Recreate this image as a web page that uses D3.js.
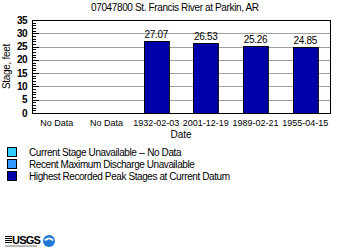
<!DOCTYPE html>
<html>
<head>
<meta charset="utf-8">
<script src="https://cdn.jsdelivr.net/npm/d3@7"></script>
<style>
  body { margin: 0; background: #fff; }
  text { font-family: "Liberation Sans", Arial, sans-serif; fill: #000; }
</style>
</head>
<body>
<svg id="chart" width="350" height="250"></svg>
<script>
// chart data
const title = "07047800 St. Francis River at Parkin, AR";
const categories = ["No Data", "No Data", "1932-02-03", "2001-12-19", "1989-02-21", "1955-04-15"];
const stages = [null, null, 27.07, 26.53, 25.26, 24.85];
const yTicks = [0, 5, 10, 15, 20, 25, 30, 35];
const legendLabels = [
  "Current Stage Unavailable -- No Data",
  "Recent Maximum Discharge Unavailable",
  "Highest Recorded Peak Stages at Current Datum"
];
const legendColors = ["#33ccff", "#3399ff", "#0000aa"];

const svg = d3.select("#chart");
const margin = { left: 32, right: 20, top: 20, bottom: 137 };
const W = 350, H = 250;

const x = d3.scaleBand()
  .domain(d3.range(categories.length))
  .range([margin.left, W - margin.right])
  .paddingInner(0.5)
  .paddingOuter(0.25);

const y = d3.scaleLinear()
  .domain([0, 35])
  .range([H - margin.bottom, margin.top]);

// title (squeezed a bit like the gd-rendered original)
svg.append("text")
  .attr("x", 175).attr("y", 11)
  .attr("text-anchor", "middle")
  .attr("textLength", 168)
  .attr("lengthAdjust", "spacing")
  .style("font-size", "10px")
  .text(title);

// gridlines
svg.append("g")
  .selectAll("line")
  .data(yTicks.filter(d => d > 0 && d < 35))
  .join("line")
  .attr("x1", margin.left).attr("x2", W - margin.right)
  .attr("y1", d => Math.round(y(d)) + 0.5).attr("y2", d => Math.round(y(d)) + 0.5)
  .attr("stroke", "#a0a0a0");

// minor ticks (inside)
svg.append("g")
  .selectAll("line")
  .data(d3.range(0, 36))
  .join("line")
  .attr("x1", margin.left)
  .attr("x2", d => margin.left + (d % 5 === 0 ? 7 : 4))
  .attr("y1", d => Math.round(y(d)) + 0.5).attr("y2", d => Math.round(y(d)) + 0.5)
  .attr("stroke", "#000");

// plot frame
svg.append("rect")
  .attr("x", margin.left + 0.5).attr("y", margin.top + 0.5)
  .attr("width", W - margin.right - margin.left)
  .attr("height", y(0) - margin.top)
  .attr("fill", "none").attr("stroke", "#000");

// y tick labels
svg.append("g")
  .selectAll("text")
  .data(yTicks)
  .join("text")
  .attr("x", margin.left - 5)
  .attr("y", d => y(d) + 3.5)
  .attr("text-anchor", "end")
  .style("font-size", "10px")
  .style("font-weight", "bold")
  .style("letter-spacing", "-0.5px")
  .text(d => d);

// y label
svg.append("text")
  .attr("transform", `translate(10,${(margin.top + y(0)) / 2}) rotate(-90)`)
  .attr("text-anchor", "middle")
  .style("font-size", "10px")
  .style("letter-spacing", "-0.3px")
  .text("Stage, feet");

// bars
const barData = stages.map((v, i) => ({ i, v })).filter(d => d.v !== null);
svg.append("g")
  .selectAll("rect")
  .data(barData)
  .join("rect")
  .attr("x", d => Math.round(x(d.i)) + 0.5)
  .attr("y", d => Math.round(y(d.v)) + 0.5)
  .attr("width", x.bandwidth())
  .attr("height", d => Math.round(y(0)) - Math.round(y(d.v)))
  .attr("fill", "#0000aa")
  .attr("stroke", "#000");

// value labels
svg.append("g")
  .selectAll("text")
  .data(barData)
  .join("text")
  .attr("x", d => x(d.i) + x.bandwidth() / 2)
  .attr("y", d => y(d.v) - 3)
  .attr("text-anchor", "middle")
  .style("font-size", "10px")
  .style("letter-spacing", "-0.3px")
  .text(d => d.v.toFixed(2));

// x labels
svg.append("g")
  .selectAll("text")
  .data(categories)
  .join("text")
  .attr("x", (d, i) => x(i) + x.bandwidth() / 2)
  .attr("y", y(0) + 13)
  .attr("text-anchor", "middle")
  .style("font-size", "9px")
  .text(d => d);

svg.append("text")
  .attr("x", 181).attr("y", y(0) + 25)
  .attr("text-anchor", "middle")
  .style("font-size", "10px")
  .text("Date");

// legend
const legend = svg.append("g")
  .selectAll("g")
  .data(legendLabels)
  .join("g")
  .attr("transform", (d, i) => `translate(7,${147 + i * 12})`);

legend.append("rect")
  .attr("x", 0.5).attr("y", 0.5)
  .attr("width", 9).attr("height", 9)
  .attr("fill", (d, i) => legendColors[i])
  .attr("stroke", "#000");

const legendText = legend.append("text")
  .attr("x", 22).attr("y", 8.5)
  .style("font-size", "10px")
  .text(d => d);

// squeeze legend labels so the longest one is ~201px wide
const nodes = legendText.nodes();
const squeeze = 201 / d3.max(nodes, n => n.getComputedTextLength());
legendText.attr("textLength", function () { return this.getComputedTextLength() * squeeze; })
  .attr("lengthAdjust", "spacing");

// logos
const logo = svg.append("g").attr("transform", "translate(5,236)");
logo.selectAll("line")
  .data(d3.range(4))
  .join("line")
  .attr("x1", 0).attr("x2", 7)
  .attr("y1", d => d * 2 + 0.5).attr("y2", d => d * 2 + 0.5)
  .attr("stroke", "#000");
logo.append("text")
  .attr("x", 7).attr("y", 8)
  .style("font-size", "11px")
  .style("font-weight", "bold")
  .style("letter-spacing", "-0.8px")
  .text("USGS");
logo.append("rect")
  .attr("x", 0).attr("y", 9.5).attr("width", 32).attr("height", 1)
  .attr("fill", "#777");
logo.append("circle")
  .attr("cx", 44).attr("cy", 5).attr("r", 6)
  .attr("fill", "#1f78d6");
logo.append("path")
  .attr("d", "M39,4 Q44,-1 49,4 Q47,6 44,3 Q41,6 39,4 Z")
  .attr("fill", "#fff");
</script>
</body>
</html>
